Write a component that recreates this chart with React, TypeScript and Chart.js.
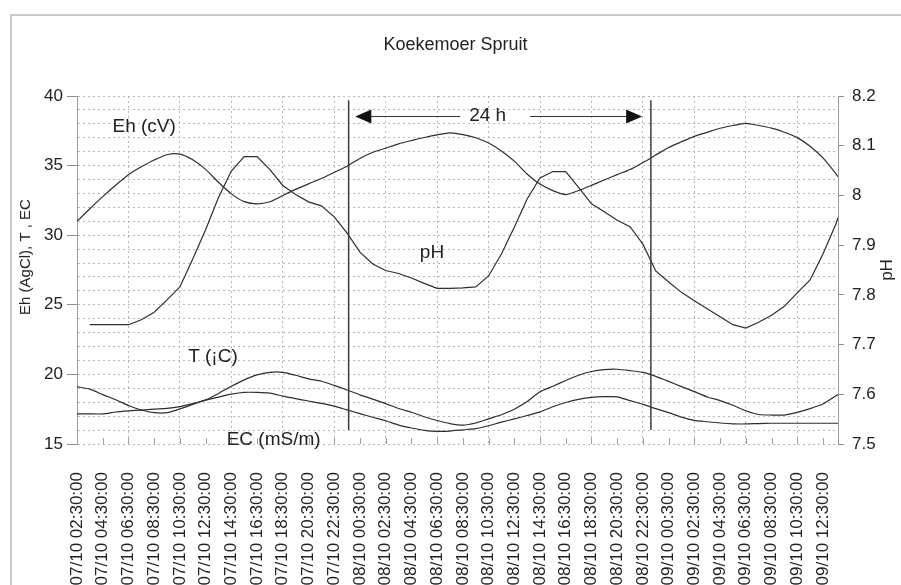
import React, { useEffect, useRef } from "react";
import { Chart, registerables } from "chart.js";

Chart.register(...registerables);

// ---- data ----
const hours = [
  2.5, 3.5, 4.5, 5.5, 6.5, 7.5, 8.5, 9.5, 10.5, 11.5,
  12.5, 13.5, 14.5, 15.5, 16.5, 17.5, 18.5, 19.5, 20.5, 21.5,
  22.5, 23.5, 24.5, 25.5, 26.5, 27.5, 28.5, 29.5, 30.5, 31.5,
  32.5, 33.5, 34.5, 35.5, 36.5, 37.5, 38.5, 39.5, 40.5, 41.5,
  42.5, 43.5, 44.5, 45.5, 46.5, 47.5, 48.5, 49.5, 50.5, 51.5,
  52.5, 53.5, 54.5, 55.5, 56.5, 57.5, 58.5, 59.5, 60.5, 61.5,
  61.67,
];

const ehValues = [
  31.0, 31.9, 32.77, 33.59, 34.35, 34.91, 35.4, 35.78, 35.83, 35.42,
  34.73, 33.8, 32.97, 32.41, 32.25, 32.4, 32.85, 33.29, 33.69, 34.07,
  34.51, 34.96, 35.51, 35.96, 36.25, 36.56, 36.8, 37.02, 37.21, 37.35,
  37.23, 37.0, 36.62, 36.05, 35.32, 34.4, 33.67, 33.2, 32.92, 33.21,
  33.58, 33.97, 34.35, 34.72, 35.22, 35.76, 36.3, 36.71, 37.1, 37.39,
  37.68, 37.88, 38.03, 37.88, 37.69, 37.4, 37.01, 36.39, 35.55, 34.43,
  34.2,
];

const phValues = [
  null, 7.74, 7.74, 7.74, 7.74, 7.75, 7.765, 7.79, 7.816, 7.872,
  7.931, 7.996, 8.049, 8.078, 8.078, 8.052, 8.02, 8.002, 7.987, 7.979,
  7.957, 7.924, 7.886, 7.862, 7.849, 7.843, 7.834, 7.823, 7.813, 7.813,
  7.814, 7.816, 7.838, 7.882, 7.936, 7.993, 8.035, 8.048, 8.048, 8.016,
  7.983, 7.967, 7.95, 7.937, 7.902, 7.848, 7.826, 7.805, 7.788, 7.772,
  7.756, 7.74, 7.733, 7.745, 7.759, 7.777, 7.804, 7.83, 7.882, 7.942,
  7.955,
];

const tValues = [
  19.12, 18.94, 18.55, 18.18, 17.77, 17.44, 17.25, 17.25, 17.52, 17.85,
  18.17, 18.63, 19.15, 19.61, 19.97, 20.15, 20.15, 19.94, 19.68, 19.51,
  19.21, 18.88, 18.53, 18.22, 17.9, 17.55, 17.28, 16.96, 16.69, 16.47,
  16.36, 16.51, 16.81, 17.1, 17.49, 18.05, 18.75, 19.15, 19.56, 19.94,
  20.21, 20.35, 20.37, 20.27, 20.14, 19.86, 19.5, 19.12, 18.76, 18.38,
  18.12, 17.78, 17.39, 17.12, 17.08, 17.08, 17.27, 17.54, 17.87, 18.45,
  18.56,
];

const ecValues = [
  17.16, 17.16, 17.16, 17.3, 17.38, 17.44, 17.51, 17.56, 17.69, 17.9,
  18.15, 18.37, 18.58, 18.71, 18.71, 18.66, 18.44, 18.26, 18.09, 17.92,
  17.72, 17.45, 17.18, 16.92, 16.67, 16.36, 16.15, 15.98, 15.91, 15.93,
  16.02, 16.1, 16.31, 16.57, 16.8, 17.05, 17.31, 17.68, 17.98, 18.21,
  18.35, 18.4, 18.39, 18.12, 17.85, 17.54, 17.25, 16.93, 16.7, 16.6,
  16.51, 16.45, 16.44, 16.47, 16.49, 16.49, 16.49, 16.49, 16.49, 16.49,
  16.49,
];

const xTickLabels = [
  "07/10 02:30:00", "07/10 04:30:00", "07/10 06:30:00", "07/10 08:30:00",
  "07/10 10:30:00", "07/10 12:30:00", "07/10 14:30:00", "07/10 16:30:00",
  "07/10 18:30:00", "07/10 20:30:00", "07/10 22:30:00", "08/10 00:30:00",
  "08/10 02:30:00", "08/10 04:30:00", "08/10 06:30:00", "08/10 08:30:00",
  "08/10 10:30:00", "08/10 12:30:00", "08/10 14:30:00", "08/10 16:30:00",
  "08/10 18:30:00", "08/10 20:30:00", "08/10 22:30:00", "09/10 00:30:00",
  "09/10 02:30:00", "09/10 04:30:00", "09/10 06:30:00", "09/10 08:30:00",
  "09/10 10:30:00", "09/10 12:30:00",
];

const leftTickLabels = [15, 20, 25, 30, 35, 40];
const rightTickLabels = ["7.5", "7.6", "7.7", "7.8", "7.9", "8", "8.1", "8.2"];

const markerHours = [23.62, 47.12];
const markerRange = [16, 39.7];
const arrowFrom = 24.14;
const arrowTo = 46.44;
const arrowLevel = 38.56;
const arrowGap = [32.3, 37.74];

const seriesNotes = [
  { text: "Eh (cV)", x: 5.26, y: 37.77, align: "left" },
  { text: "24 h", x: 34.43, y: 38.56, align: "center" },
  { text: "pH", x: 30.1, y: 28.72, align: "center" },
  { text: "T (¡C)", x: 13.07, y: 21.25, align: "center" },
  { text: "EC (mS/m)", x: 17.79, y: 15.29, align: "center" },
];

const FONT = '"Liberation Sans", Arial, Helvetica, sans-serif';
const INK = "#222";
const GRID = "#b8b8b8";
const LINE = "#2e2e2e";

const toHours = (s: string) =>
  (parseInt(s.slice(0, 2), 10) - 7) * 24 +
  parseInt(s.slice(6, 8), 10) +
  parseInt(s.slice(9, 11), 10) / 60;

const pts = (vals: (number | null)[]) =>
  hours.map((h, i) => ({ x: h, y: vals[i] }));

const framePlugin = {
  id: "frame",
  beforeDraw(chart: any) {
    const ctx = chart.ctx;
    ctx.save();
    ctx.strokeStyle = "#c9c9c9";
    ctx.lineWidth = 2;
    ctx.strokeRect(11, 15, 2000, 2000);
    ctx.restore();
  },
};

const innerTicksPlugin = {
  id: "innerTicks",
  beforeDatasetsDraw(chart: any) {
    const { ctx, chartArea, scales } = chart;
    ctx.save();
    ctx.strokeStyle = "#a0a0a0";
    ctx.lineWidth = 1;
    scales.x.ticks.forEach((t: any) => {
      const px = Math.round(scales.x.getPixelForValue(t.value)) + 0.5;
      ctx.beginPath();
      ctx.moveTo(px, chartArea.bottom - 6);
      ctx.lineTo(px, chartArea.bottom);
      ctx.stroke();
    });
    ctx.restore();
  },
};

const notesPlugin = {
  id: "notes",
  afterDatasetsDraw(chart: any) {
    const { ctx, scales } = chart;
    const xs = scales.x;
    const ys = scales.y;
    ctx.save();
    ctx.strokeStyle = "#3a3a3a";
    ctx.lineWidth = 1.5;
    markerHours.forEach((h) => {
      const px = xs.getPixelForValue(h);
      ctx.beginPath();
      ctx.moveTo(px, ys.getPixelForValue(markerRange[1]));
      ctx.lineTo(px, ys.getPixelForValue(markerRange[0]));
      ctx.stroke();
    });
    const ay = Math.round(ys.getPixelForValue(arrowLevel)) + 0.5;
    const ax1 = xs.getPixelForValue(arrowFrom);
    const ax2 = xs.getPixelForValue(arrowTo);
    const g1 = xs.getPixelForValue(arrowGap[0]);
    const g2 = xs.getPixelForValue(arrowGap[1]);
    ctx.strokeStyle = "#333";
    ctx.lineWidth = 1;
    ctx.beginPath();
    ctx.moveTo(ax1 + 10, ay);
    ctx.lineTo(g1, ay);
    ctx.moveTo(g2, ay);
    ctx.lineTo(ax2 - 10, ay);
    ctx.stroke();
    ctx.fillStyle = "#111";
    ctx.beginPath();
    ctx.moveTo(ax1, ay);
    ctx.lineTo(ax1 + 16, ay - 7);
    ctx.lineTo(ax1 + 16, ay + 7);
    ctx.closePath();
    ctx.fill();
    ctx.beginPath();
    ctx.moveTo(ax2, ay);
    ctx.lineTo(ax2 - 16, ay - 7);
    ctx.lineTo(ax2 - 16, ay + 7);
    ctx.closePath();
    ctx.fill();
    ctx.fillStyle = INK;
    ctx.font = `19px ${FONT}`;
    ctx.textBaseline = "middle";
    seriesNotes.forEach((n) => {
      ctx.textAlign = n.align as CanvasTextAlign;
      ctx.fillText(n.text, xs.getPixelForValue(n.x), ys.getPixelForValue(n.y));
    });
    ctx.restore();
  },
  afterDraw(chart: any) {
    const { ctx, chartArea } = chart;
    ctx.save();
    ctx.fillStyle = INK;
    ctx.textAlign = "center";
    ctx.textBaseline = "middle";
    ctx.font = `15px ${FONT}`;
    ctx.translate(26, chartArea.top + 161);
    ctx.rotate(-Math.PI / 2);
    ctx.fillText("Eh (AgCl), T , EC", 0, 0);
    ctx.restore();
    ctx.save();
    ctx.fillStyle = INK;
    ctx.textAlign = "center";
    ctx.textBaseline = "middle";
    ctx.font = `17px ${FONT}`;
    ctx.translate(chartArea.right + 49, chartArea.top + 174);
    ctx.rotate(-Math.PI / 2);
    ctx.fillText("pH", 0, 0);
    ctx.restore();
  },
};

export default function App() {
  const ref = useRef<HTMLCanvasElement>(null);
  useEffect(() => {
    if (!ref.current) return;
    Chart.defaults.font.family = FONT;
    Chart.defaults.color = INK;
    const lineDs = (label: string, vals: (number | null)[], axis: string, tension: number) => ({
      label,
      data: pts(vals),
      yAxisID: axis,
      borderColor: LINE,
      borderWidth: 1.2,
      pointRadius: 0,
      tension,
      fill: false,
      spanGaps: false,
    });
    const x0 = toHours(xTickLabels[0]);
    const chart = new Chart(ref.current, {
      type: "line",
      data: {
        datasets: [
          lineDs("Eh (cV)", ehValues, "y", 0.25),
          lineDs("pH", phValues, "y1", 0),
          lineDs("T", tValues, "y", 0.2),
          lineDs("EC", ecValues, "y", 0.2),
        ] as any,
      },
      options: {
        responsive: false,
        animation: false,
        devicePixelRatio: 1,
        layout: { padding: { left: 10, right: 0, top: 0, bottom: 0 } },
        plugins: {
          legend: { display: false },
          tooltip: { enabled: false },
          title: {
            display: true,
            text: "Koekemoer Spruit",
            color: INK,
            font: { size: 18, weight: "normal" as any, family: FONT },
            padding: { top: 34, bottom: 40.4 },
          },
        },
        scales: {
          x: {
            type: "linear",
            min: hours[0],
            max: hours[hours.length - 1],
            afterBuildTicks: (scale: any) => {
              scale.ticks = xTickLabels.map((s) => ({ value: toHours(s) }));
            },
            afterFit: (scale: any) => {
              scale.height = 585 - 444;
            },
            grid: {
              color: (c: any) => {
                const v = c.tick ? c.tick.value : NaN;
                const k = Math.round(v - x0);
                return k % 4 === 0 ? GRID : "rgba(0,0,0,0)";
              },
              drawTicks: false,
              lineWidth: 1,
            },
            border: { display: false, dash: [2, 3] },
            ticks: {
              autoSkip: false,
              minRotation: 90,
              maxRotation: 90,
              padding: 28,
              color: INK,
              font: { size: 17, family: FONT },
              callback: (_v: any, i: number) => xTickLabels[i],
            },
          },
          y: {
            type: "linear",
            position: "left",
            min: 15,
            max: 40,
            afterFit: (scale: any) => {
              scale.width = 67;
            },
            ticks: {
              stepSize: 1,
              autoSkip: false,
              padding: 4,
              color: INK,
              font: { size: 17, family: FONT },
              callback: (v: any) => (leftTickLabels.includes(Number(v)) ? String(v) : ""),
            },
            grid: {
              color: GRID,
              lineWidth: 1,
              tickLength: 10,
              tickColor: (c: any) =>
                c.tick && leftTickLabels.includes(Number(c.tick.value)) ? "#8a8a8a" : "rgba(0,0,0,0)",
            },
            border: { display: true, color: "#9a9a9a", width: 1, dash: [2, 3] },
          },
          y1: {
            type: "linear",
            position: "right",
            min: 7.5,
            max: 8.2,
            afterBuildTicks: (scale: any) => {
              scale.ticks = rightTickLabels.map((s) => ({ value: parseFloat(s) }));
            },
            afterFit: (scale: any) => {
              scale.width = 63;
            },
            ticks: {
              autoSkip: false,
              padding: 8,
              color: INK,
              font: { size: 17, family: FONT },
              callback: (_v: any, i: number) => rightTickLabels[i],
            },
            grid: {
              drawOnChartArea: false,
              tickLength: 6,
              tickColor: "#8a8a8a",
            },
            border: { display: true, color: "#9a9a9a", width: 1 },
          },
        },
      } as any,
      plugins: [framePlugin, innerTicksPlugin, notesPlugin],
    });
    return () => chart.destroy();
  }, []);
  return (
    <div style={{ position: "absolute", left: 0, top: 0, width: 901, height: 585, overflow: "hidden", background: "#fff" }}>
      <canvas ref={ref} width={901} height={585} style={{ display: "block", width: 901, height: 585 }} />
    </div>
  );
}
